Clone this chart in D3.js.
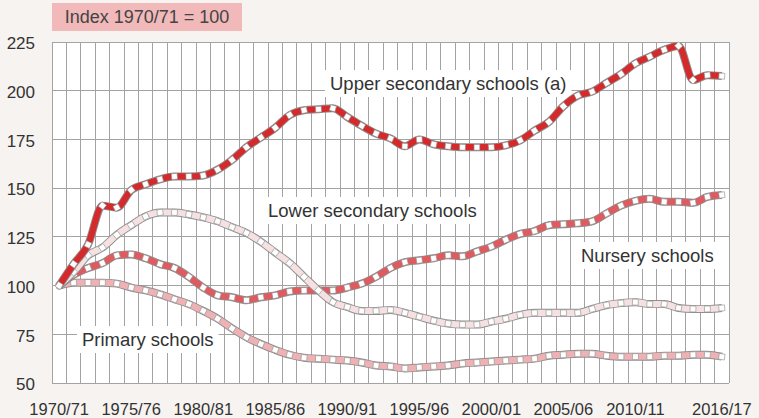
<!DOCTYPE html>
<html>
<head>
<meta charset="utf-8">
<script src="https://cdn.jsdelivr.net/npm/d3@7"></script>
<style>
  html, body { margin: 0; padding: 0; background: #f7f3f1; }
  svg { display: block; }
  text { font-family: "Liberation Sans", Arial, sans-serif; }
</style>
</head>
<body>
<svg id="chart" width="759" height="418"></svg>
<script>
const categories = ["1970/71","1971/72","1972/73","1973/74","1974/75","1975/76","1976/77","1977/78","1978/79","1979/80",
  "1980/81","1981/82","1982/83","1983/84","1984/85","1985/86","1986/87","1987/88","1988/89","1989/90",
  "1990/91","1991/92","1992/93","1993/94","1994/95","1995/96","1996/97","1997/98","1998/99","1999/00",
  "2000/01","2001/02","2002/03","2003/04","2004/05","2005/06","2006/07","2007/08","2008/09","2009/10",
  "2010/11","2011/12","2012/13","2013/14","2014/15","2015/16","2016/17"];

const upperSecondary = [100,111,121,141,140,149,152,154.5,156,156,156.5,159.5,164.5,171,176,181,187.5,190,190.5,191,
  186.5,182,178,175.5,171.5,175,172.5,171.5,171,171,171,172,174.5,179.5,184,192,197.5,199.5,204,208.5,
  214,217.5,221,223,205.5,208,207.5];
const lowerSecondary = [100,107,115.5,119.5,126,131,135.5,137.5,137.5,136.5,135,133,130,127,122.5,117,111.5,104.5,97.5,91.5,
  89,87,87,87.5,86,84,82,80.5,80,80,81.5,83,85,86,86,86,86,88,90,91,
  91.5,90.5,90.5,88.5,88,88,88.5];
const nursery = [100,105.5,109,111.5,115.5,116,114,111,109,104.5,99,95,94,92.5,94,95,97,97.5,97.5,97.5,
  99,101,104.5,109,112,113,114,115.5,115,117.5,120,123.5,126.5,128,131,131.5,132,133,137,141,
  143.5,144.5,143,143,142.5,145.5,146.5];
const primary = [100,101.5,101.5,101.5,101,99,97.5,95.5,93,90.5,87,83,78,73.5,70,67,64.5,63,62.5,62,
  61.5,60.5,59,58.5,57.5,58,58.5,59,60,60.5,61,61.5,62,62.5,64,64.5,65,65,64,63.5,
  63.5,63.5,64,64,64.5,64.5,63.5];

const xTickLabels = ["1970/71","1975/76","1980/81","1985/86","1990/91","1995/96","2000/01","2005/06","2010/11","2016/17"];
const yTicks = [50,75,100,125,150,175,200,225];
const titleText = "Index 1970/71 = 100";

const seriesDefs = [
  { name: "Primary schools", values: primary, color: "#efb2b4", label: [82, 346] },
  { name: "Nursery schools", values: nursery, color: "#e05b5f", label: [581, 262] },
  { name: "Lower secondary schools", values: lowerSecondary, color: "#f5e1e1", label: [268, 217] },
  { name: "Upper secondary schools (a)", values: upperSecondary, color: "#d52a2c", label: [330, 90] }
];

const svg = d3.select("#chart");
const pLeft = 52, pRight = 729, pTop = 42, pBottom = 383;

const x = d3.scaleBand().domain(categories).range([pLeft, pRight]).paddingInner(0).paddingOuter(0);
const y = d3.scaleLinear().domain([50, 225]).range([pBottom, pTop]);
const cx = d => x(d) + x.bandwidth() / 2;

// plot background
svg.append("rect").attr("x", pLeft).attr("y", pTop).attr("width", pRight - pLeft).attr("height", pBottom - pTop)
  .attr("fill", "#ffffff");

const grid = svg.append("g").attr("stroke", "#a3a3a3").attr("stroke-width", 1).attr("shape-rendering", "crispEdges");
categories.forEach(c => {
  grid.append("line").attr("x1", x(c)).attr("x2", x(c)).attr("y1", pTop).attr("y2", pBottom);
});
grid.append("line").attr("x1", pRight).attr("x2", pRight).attr("y1", pTop).attr("y2", pBottom);
yTicks.forEach(t => {
  grid.append("line").attr("x1", pLeft).attr("x2", pRight).attr("y1", y(t)).attr("y2", y(t));
});

// Label boxes (white) then texts
const labelG = svg.append("g");
seriesDefs.forEach(s => {
  const g = labelG.append("g");
  const t = g.append("text").attr("x", s.label[0]).attr("y", s.label[1])
    .attr("font-size", 18.5).attr("fill", "#333").text(s.name);
  const bb = t.node().getBBox();
  g.insert("rect", "text").attr("x", bb.x - 5).attr("y", bb.y - 3).attr("width", bb.width + 10).attr("height", bb.height + 6)
    .attr("fill", "#ffffff");
});

// Lines
const line = d3.line().x((d, i) => cx(categories[i])).y(d => y(d)).curve(d3.curveMonotoneX);
seriesDefs.forEach(s => {
  const g = svg.append("g");
  g.append("path").attr("d", line(s.values)).attr("fill", "none").attr("stroke", "#8f8f8f")
    .attr("stroke-width", 8).attr("stroke-linejoin", "round");
  g.append("path").attr("d", line(s.values)).attr("fill", "none").attr("stroke", s.color)
    .attr("stroke-width", 6.2).attr("stroke-linejoin", "round");
  s.values.forEach((v, i) => {
    const px = cx(categories[i]), py = y(v);
    const i0 = Math.max(0, i - 1), i1 = Math.min(s.values.length - 1, i + 1);
    const ang = Math.atan2(y(s.values[i1]) - y(s.values[i0]), cx(categories[i1]) - cx(categories[i0])) * 180 / Math.PI;
    g.append("rect").attr("x", -2.9).attr("y", -2.9).attr("width", 5.8).attr("height", 5.8)
      .attr("fill", "#ffffff").attr("stroke", "#8f8f8f").attr("stroke-width", 0.6)
      .attr("transform", `translate(${px},${py}) rotate(${ang})`);
  });
});

// Axes
const xAxis = d3.axisBottom(x).tickValues(xTickLabels).tickSize(0).tickPadding(0);
const xg = svg.append("g").attr("transform", `translate(0,${pBottom})`).call(xAxis);
xg.select(".domain").remove();
xg.selectAll("text").attr("font-size", 16.5).attr("fill", "#333").attr("dy", null).attr("y", 32);

const yAxis = d3.axisLeft(y).tickValues(yTicks).tickSize(0).tickPadding(0);
const yg = svg.append("g").attr("transform", `translate(35,0)`).call(yAxis);
yg.select(".domain").remove();
yg.selectAll("text").attr("font-size", 17).attr("fill", "#333").attr("dy", "0.4em");

// Title box
const tg = svg.append("g");
tg.append("rect").attr("x", 52).attr("y", 3).attr("width", 190).attr("height", 28).attr("fill", "#f1b9b9");
tg.append("text").attr("x", 147).attr("y", 23).attr("text-anchor", "middle").attr("font-size", 18)
  .attr("fill", "#444").text(titleText);
</script>
</body>
</html>
